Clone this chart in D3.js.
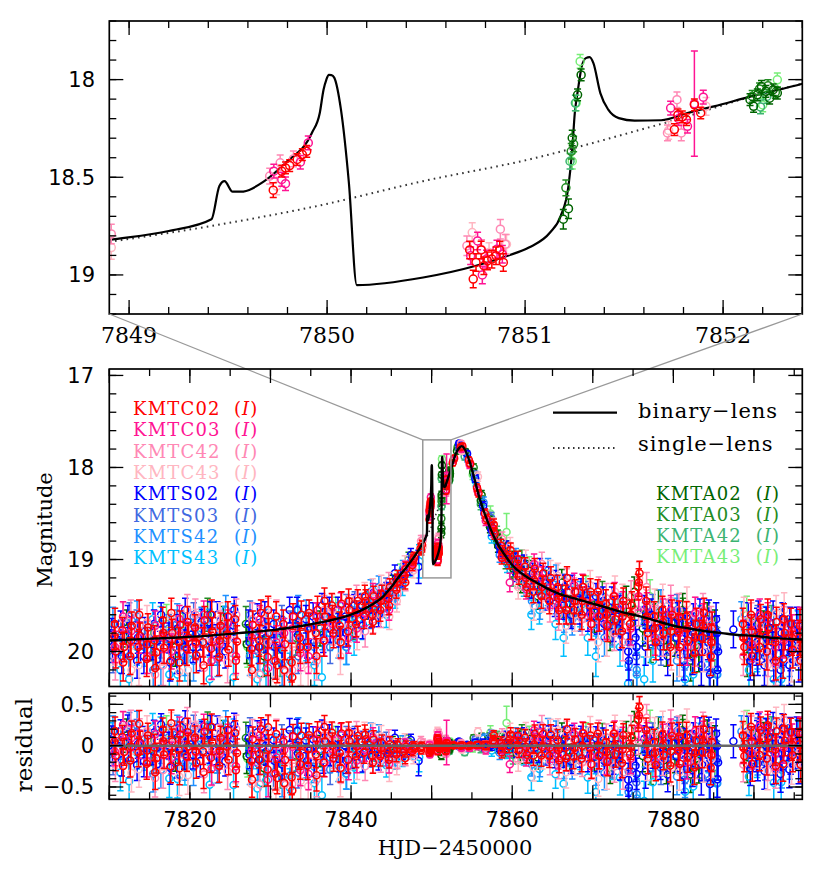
<!DOCTYPE html>
<html><head><meta charset="utf-8">
<script src="https://cdn.jsdelivr.net/npm/d3@7"></script>
<style>body{margin:0;background:#fff}</style>
</head><body>
<svg id="c" width="830" height="873"></svg>
<script>
// ---------------- DATA: [HJD-2450000, I mag, error] ----------------
const KMTC02 = [
[7810.62,19.83,.15],[7810.80,20.00,.18],[7811.63,19.77,.14],[7811.85,19.95,.16],[7812.60,20.05,.20],[7812.78,19.72,.15],
[7813.62,19.95,.17],[7813.83,19.83,.14],[7814.64,20.08,.19],[7814.80,19.74,.15],[7815.61,19.88,.16],[7815.84,20.01,.18],
[7816.62,19.66,.14],[7816.79,19.96,.17],[7817.63,20.10,.20],[7817.82,19.80,.15],[7818.60,19.90,.16],[7818.81,19.71,.15],
[7819.62,19.97,.18],[7819.84,19.85,.16],[7820.63,19.74,.14],[7820.80,20.04,.19],[7821.61,19.90,.16],[7821.83,19.66,.15],
[7822.62,19.97,.18],[7822.79,19.78,.15],[7823.64,20.06,.20],[7823.82,19.72,.14],[7824.60,19.82,.16],[7824.81,19.98,.18],
[7825.63,19.65,.15],[7825.85,19.89,.17],[7827.62,19.97,.18],[7827.80,19.71,.15],[7828.61,19.88,.17],[7828.83,19.58,.14],
[7829.64,20.06,.20],[7829.80,19.80,.16],[7830.62,20.10,.20],[7830.84,20.15,.19],[7831.60,19.70,.15],[7831.82,19.92,.17],
[7832.63,20.12,.21],[7832.80,19.62,.14],[7833.61,19.85,.16],[7833.83,19.60,.15],[7834.62,19.95,.17],[7834.80,19.58,.14],
[7835.63,19.80,.16],[7835.84,19.55,.15],[7836.61,19.88,.17],[7836.79,19.62,.14],[7837.62,19.50,.13],[7837.83,19.80,.16],
[7838.60,19.72,.15],[7838.82,19.48,.13],[7839.63,19.78,.16],[7839.81,19.55,.13],[7840.62,19.70,.14],[7840.84,19.45,.12],
[7841.60,19.62,.13],[7841.82,19.45,.12],[7842.63,19.60,.13],[7842.80,19.40,.11],[7843.62,19.55,.12],[7843.83,19.38,.10],
[7844.61,19.42,.10],[7844.82,19.30,.09],[7845.63,19.33,.09],[7845.80,19.20,.08],[7846.62,19.18,.07],[7846.84,19.10,.07],
[7847.61,19.06,.06],[7847.83,18.98,.06],[7848.62,18.88,.05],[7848.80,18.84,.05],
[7810.71,19.70,.17],[7811.72,20.12,.20],[7812.70,19.88,.18],[7813.71,19.60,.16],[7814.72,19.92,.18],[7815.70,20.18,.21],
[7816.71,19.80,.17],[7817.70,19.58,.16],[7818.72,20.12,.20],[7819.70,19.68,.17],[7820.71,19.90,.18],[7821.70,20.15,.20],
[7822.71,19.60,.16],[7823.70,19.88,.18],[7824.72,19.62,.16],[7825.71,20.10,.20],[7827.71,20.20,.21],[7828.70,19.95,.18],
[7829.71,19.55,.15],[7830.71,19.62,.16],[7831.71,20.20,.21],[7832.71,20.28,.22],[7833.70,19.95,.18],[7834.71,19.75,.17],
[7835.71,20.05,.19],[7836.70,19.45,.14],[7837.71,19.65,.15],[7838.71,19.90,.17],[7839.70,19.45,.13],[7840.71,19.58,.13],
[7841.71,19.40,.12],[7842.71,19.68,.13],[7843.71,19.45,.11],[7844.71,19.50,.10],[7845.71,19.25,.09],[7846.71,19.25,.07],
[7847.71,19.00,.06],[7848.71,18.90,.05],
[7849.728,18.566,.038],[7849.771,18.469,.03],[7849.79,18.452,.03],[7849.811,18.44,.03],[7849.849,18.409,.03],[7849.875,18.384,.03],[7849.897,18.367,.03],
[7850.72,18.872,.045],[7850.738,19.021,.045],[7850.752,18.936,.045],[7850.778,18.872,.045],[7850.792,18.953,.045],[7850.81,18.928,.045],
[7850.832,18.919,.045],[7850.853,18.902,.045],[7850.872,18.872,.045],[7850.89,18.936,.045],
[7851.754,18.256,.03],[7851.772,18.18,.03],[7851.794,18.191,.03],[7851.815,18.205,.03],[7851.855,18.129,.03],[7851.887,18.171,.03],
[7852.62,17.95,.03],[7852.80,17.90,.03],[7853.60,17.78,.03],[7853.82,17.77,.03],[7854.62,17.92,.03],[7854.80,17.96,.03],
[7855.63,18.22,.04],[7855.82,18.28,.04],[7856.61,18.50,.05],[7856.84,18.56,.05],[7857.62,18.66,.06],[7857.82,18.72,.06],
[7858.63,18.85,.07],[7858.81,18.92,.07],[7859.62,19.02,.08],[7859.80,18.90,.08],[7860.62,19.10,.09],[7860.84,19.18,.09],
[7861.60,19.08,.10],[7861.82,19.30,.10],[7862.63,19.35,.12],[7862.80,19.10,.11],[7863.62,19.40,.13],[7863.84,19.15,.11],
[7864.61,19.45,.14],[7864.80,19.20,.12],[7865.63,19.30,.13],[7865.82,19.55,.15],[7866.62,19.42,.14],[7866.80,19.20,.12],
[7867.60,19.55,.15],[7867.83,19.35,.13],[7868.62,19.60,.16],[7868.81,19.30,.13],[7869.63,19.50,.15],[7869.84,19.70,.17],
[7870.61,19.35,.13],[7870.80,19.62,.16],[7871.62,19.48,.15],[7871.83,19.72,.17],[7872.60,19.40,.14],[7872.81,19.65,.16],
[7873.63,19.78,.18],[7873.80,19.45,.14],[7874.62,19.70,.17],[7874.84,19.50,.15],[7875.61,19.30,.14],[7875.80,19.15,.13],
[7876.62,19.45,.15],[7876.83,19.80,.18],[7877.60,19.62,.16],[7877.82,19.90,.19],[7878.63,19.55,.15],[7878.80,19.80,.18],
[7879.62,19.95,.20],[7879.84,19.60,.16],[7880.61,19.78,.18],[7880.82,19.95,.20],[7881.63,19.62,.16],[7881.80,19.88,.19],
[7882.62,20.02,.21],[7882.84,19.70,.17],[7883.60,19.85,.19],[7883.81,19.58,.16],[7884.63,20.05,.21],[7884.80,19.75,.18],
[7857.71,18.62,.06],[7858.71,18.98,.07],[7859.71,18.95,.08],[7860.71,19.00,.09],[7861.71,19.20,.10],[7862.71,19.22,.11],
[7863.71,19.30,.12],[7864.71,19.35,.13],[7865.71,19.42,.14],[7866.71,19.55,.15],[7867.71,19.45,.14],[7868.71,19.45,.15],
[7869.71,19.35,.14],[7870.71,19.50,.15],[7871.71,19.60,.16],[7872.71,19.55,.15],[7873.71,19.62,.16],[7874.71,19.60,.16],
[7875.71,19.25,.15],[7876.71,19.62,.16],[7877.71,19.75,.17],[7878.71,19.68,.17],[7879.71,19.78,.18],[7880.71,19.62,.17],
[7881.71,19.75,.18],[7882.71,19.85,.19],[7883.71,19.72,.18],[7884.71,19.90,.20],
[7888.62,19.70,.17],[7888.81,19.95,.19],[7889.63,19.60,.16],[7889.80,20.05,.21],[7890.62,19.82,.18],[7890.84,19.65,.16],
[7891.61,20.00,.20],[7891.82,19.75,.17],[7892.63,19.90,.19],[7892.80,19.68,.16],[7893.62,20.08,.21],[7893.83,19.80,.18],
[7894.60,19.70,.17],[7894.82,19.98,.20],[7895.63,19.85,.19],[7895.80,20.10,.21],
[7888.71,19.85,.18],[7889.71,19.78,.18],[7890.71,19.95,.19],[7891.71,19.60,.17],[7892.71,20.10,.21],[7893.71,19.65,.17],
[7894.71,19.85,.19],[7895.71,19.72,.18]
];
const KMTC03 = [
[7810.70,19.95,.17],[7812.72,19.78,.15],[7814.70,20.05,.19],[7816.72,19.85,.16],[7818.70,19.65,.15],[7820.72,19.92,.17],
[7822.70,20.10,.20],[7824.72,19.70,.15],[7827.70,19.85,.17],[7829.72,20.18,.21],[7831.70,19.80,.16],[7833.72,20.02,.19],
[7835.70,19.62,.15],[7837.72,19.70,.15],[7839.70,19.85,.17],[7841.72,19.58,.14],[7843.70,19.45,.12],[7845.72,19.25,.09],
[7847.70,19.02,.06],
[7811.70,19.62,.16],[7813.72,19.85,.17],[7815.70,19.72,.16],[7817.72,20.00,.19],[7819.70,19.85,.17],[7821.72,19.60,.15],
[7823.70,19.92,.18],[7825.72,20.05,.19],[7828.70,19.65,.15],[7830.72,19.90,.18],[7832.72,19.75,.16],[7834.72,20.05,.19],
[7836.72,19.88,.17],[7838.72,19.50,.14],[7840.72,19.75,.15],[7842.72,19.38,.12],[7844.72,19.55,.11],[7846.72,19.10,.08],
[7849.731,18.469,.035],[7849.771,18.511,.035],[7849.79,18.533,.035],[7849.865,18.423,.035],[7849.905,18.324,.035],
[7850.725,18.902,.045],[7850.76,18.826,.045],[7850.784,19.0,.045],[7850.805,18.919,.045],[7850.858,18.868,.045],[7850.885,18.894,.045],
[7851.735,18.146,.035],[7851.775,18.2,.035],[7851.82,18.239,.035],[7851.855,18.123,.27],[7851.9,18.09,.035],
[7852.70,17.92,.03],[7853.70,17.80,.03],[7854.72,17.97,.04],[7855.70,18.25,.05],[7856.72,18.58,.05],[7857.70,18.70,.06],
[7858.72,18.95,.07],[7859.70,19.25,.10],[7860.70,19.05,.09],[7861.72,19.32,.11],[7863.70,19.20,.12],[7865.72,19.50,.15],
[7867.70,19.28,.13],[7869.72,19.60,.16],[7871.70,19.70,.17],[7873.72,19.50,.15],[7875.70,19.40,.15],[7877.72,19.85,.19],
[7879.70,19.55,.16],[7881.72,19.95,.20],[7883.70,19.65,.17],[7884.72,19.90,.20],[7888.70,19.85,.19],[7890.72,19.60,.17],
[7892.70,19.95,.20],[7894.72,19.78,.18],
[7862.72,19.05,.11],[7864.72,19.40,.13],[7866.72,19.55,.15],[7868.72,19.30,.14],[7870.72,19.62,.16],[7872.72,19.40,.15],
[7874.72,19.75,.18],[7876.72,19.52,.16],[7878.72,19.60,.17],[7880.72,19.80,.19],[7882.72,19.58,.17],[7889.72,19.92,.19],
[7891.72,19.65,.18],[7893.72,19.88,.19],[7895.72,19.70,.18]
];
const KMTC42 = [
[7810.75,20.10,.21],[7812.68,19.60,.16],[7814.75,19.85,.19],[7816.68,20.15,.22],[7818.75,19.80,.19],[7820.68,19.60,.17],
[7822.75,19.88,.19],[7824.68,20.12,.22],[7827.75,19.65,.18],[7829.68,19.90,.19],[7831.75,20.22,.23],[7832.70,20.20,.25],
[7834.75,19.75,.18],[7836.68,19.55,.16],[7838.75,19.90,.18],[7840.68,19.42,.14],[7842.75,19.65,.15],[7844.68,19.25,.11],
[7846.75,19.25,.09],[7848.68,18.80,.06],[7848.91,18.79,.05],
[7811.68,19.95,.20],[7813.75,19.72,.18],[7815.68,20.25,.23],[7817.75,19.85,.19],[7819.68,19.55,.17],[7821.75,20.18,.22],
[7823.68,19.75,.19],[7825.75,19.60,.17],[7828.68,20.25,.23],[7830.75,19.62,.18],[7833.68,19.85,.19],[7835.75,20.10,.21],
[7837.75,19.75,.18],[7839.68,19.55,.16],[7841.75,19.78,.17],[7843.68,19.60,.14],[7845.75,19.38,.11],[7847.68,19.05,.08],
[7849.71,18.494,.04],[7849.763,18.426,.04],[7849.83,18.406,.04],[7850.706,18.851,.05],[7850.78,18.87,.05],[7850.875,18.766,.05],
[7850.9,18.843,.05],[7851.719,18.273,.04],[7851.767,18.103,.04],[7851.789,18.273,.04],
[7853.65,17.74,.03],[7854.68,17.95,.04],[7856.68,18.52,.06],[7858.75,18.78,.08],[7860.68,19.20,.11],[7862.75,19.15,.13],
[7864.68,19.52,.16],[7866.75,19.25,.15],[7868.68,19.65,.17],[7870.75,19.35,.16],[7872.68,19.80,.19],[7874.75,19.40,.17],
[7876.68,19.30,.16],[7878.75,19.85,.20],[7880.68,19.55,.18],[7882.75,19.95,.21],[7884.68,19.70,.19],[7889.68,19.65,.18],
[7891.75,20.05,.22],[7893.68,19.70,.19],[7895.75,19.92,.21],
[7861.75,19.25,.13],[7863.68,19.05,.13],[7865.75,19.60,.17],[7867.68,19.35,.15],[7869.75,19.70,.18],[7871.68,19.42,.16],
[7873.75,19.90,.20],[7875.68,19.55,.17],[7877.75,19.68,.18],[7879.68,19.45,.17],[7881.75,19.90,.20],[7883.68,19.55,.18],
[7888.68,20.05,.21],[7890.75,19.72,.19],[7892.68,20.15,.22],[7894.75,19.80,.20]
];
const KMTC43 = [
[7811.75,19.65,.18],[7813.68,20.15,.22],[7815.75,19.80,.19],[7817.68,19.62,.17],[7819.75,20.20,.23],[7821.68,19.85,.19],
[7823.75,19.65,.18],[7825.68,20.05,.21],[7827.68,20.25,.23],[7829.75,19.60,.18],[7831.68,19.88,.20],[7833.75,20.15,.22],
[7835.68,19.85,.19],[7837.68,19.55,.17],[7839.75,19.72,.18],[7841.68,19.40,.15],[7843.75,19.30,.13],[7845.68,19.45,.12],
[7847.75,19.12,.08],[7848.91,18.86,.06],
[7810.68,19.95,.20],[7812.75,20.20,.23],[7814.68,19.68,.18],[7816.75,19.95,.20],[7818.68,20.22,.23],[7820.75,19.72,.18],
[7822.68,20.10,.21],[7824.75,19.85,.19],[7828.75,19.70,.18],[7830.68,20.30,.24],[7832.75,19.95,.20],[7834.68,20.20,.22],
[7836.75,19.70,.18],[7838.68,20.05,.20],[7840.75,19.80,.18],[7842.68,19.35,.14],[7844.75,19.62,.14],[7846.68,19.05,.09],
[7849.745,18.545,.045],[7850.733,18.783,.05],[7850.818,18.885,.05],[7850.906,18.843,.05],[7851.725,18.26,.045],[7851.914,18.137,.045],
[7853.75,17.82,.03],[7855.75,18.10,.05],[7857.68,18.62,.07],[7859.75,18.85,.09],[7861.68,19.02,.12],[7863.75,19.42,.15],
[7865.68,19.18,.14],[7867.75,19.60,.18],[7869.68,19.28,.16],[7871.75,19.85,.20],[7873.68,19.45,.18],[7875.75,19.20,.17],
[7877.68,19.50,.18],[7879.75,19.98,.22],[7881.68,19.48,.18],[7883.75,20.00,.22],[7888.75,19.60,.19],[7890.68,19.90,.21],
[7892.75,19.58,.19],[7894.68,20.10,.23],
[7860.75,19.30,.13],[7862.68,19.50,.16],[7864.75,19.15,.14],[7866.68,19.72,.19],[7868.75,19.50,.18],[7870.68,19.90,.21],
[7872.75,19.35,.17],[7874.68,19.75,.20],[7876.75,19.85,.21],[7878.68,19.45,.18],[7880.75,20.05,.22],[7882.68,19.60,.19],
[7884.75,19.95,.22],[7889.75,19.80,.20],[7891.68,20.15,.23],[7893.75,19.55,.19],[7895.68,19.95,.21]
];
const KMTS02 = [
[7810.40,19.95,.17],[7811.42,19.70,.14],[7812.38,19.90,.16],[7813.45,20.10,.19],[7814.40,19.78,.15],[7815.37,19.92,.17],
[7816.43,19.60,.13],[7817.40,19.85,.16],[7818.38,20.05,.19],[7818.48,19.75,.15],[7819.42,19.55,.13],[7819.47,19.80,.15],
[7820.40,19.95,.17],[7821.44,19.68,.14],[7822.39,19.88,.16],[7823.42,19.60,.14],[7824.40,20.00,.18],[7825.45,19.72,.15],
[7825.50,19.55,.14],[7827.41,19.90,.17],[7828.39,19.62,.14],[7829.43,19.85,.16],[7830.40,19.70,.15],[7831.44,19.98,.18],
[7832.38,19.55,.14],[7833.42,19.82,.16],[7834.40,19.65,.15],[7835.43,19.90,.17],[7836.40,19.50,.13],[7837.44,19.75,.15],
[7838.38,19.55,.14],[7839.42,19.80,.15],[7840.40,19.50,.12],[7841.43,19.72,.14],[7842.39,19.45,.12],[7843.42,19.60,.13],
[7844.40,19.35,.10],[7845.44,19.15,.09],[7846.40,19.22,.08],[7847.42,18.95,.07],[7848.38,19.08,.18],
[7810.30,19.80,.16],[7811.55,20.05,.19],[7812.30,19.65,.15],[7813.55,19.85,.17],[7814.30,20.05,.19],[7815.55,19.70,.15],
[7816.30,19.95,.17],[7817.55,20.12,.20],[7819.30,19.95,.18],[7820.55,19.72,.15],[7821.30,20.02,.19],[7822.55,19.60,.14],
[7823.30,19.88,.17],[7824.55,19.75,.16],[7827.30,19.70,.15],[7828.55,19.95,.18],[7829.30,19.60,.14],[7830.55,19.95,.18],
[7831.30,19.78,.16],[7833.30,19.55,.14],[7834.55,19.90,.17],[7835.30,19.62,.15],[7836.55,19.85,.16],[7837.30,19.55,.14],
[7838.55,19.80,.15],[7839.30,19.62,.14],[7840.55,19.72,.13],[7841.30,19.50,.12],[7842.55,19.62,.12],[7843.30,19.48,.11],
[7844.55,19.45,.10],[7845.30,19.30,.09],[7846.55,19.12,.08],[7847.30,19.10,.07],
[7853.40,17.74,.03],[7853.46,17.76,.03],[7854.40,17.85,.03],[7855.42,18.12,.04],[7856.40,18.42,.05],[7857.43,18.68,.06],
[7858.38,18.85,.07],[7859.42,18.95,.08],[7860.40,19.02,.09],[7860.48,19.15,.09],[7861.42,19.20,.10],[7861.47,19.05,.10],
[7862.40,19.30,.12],[7863.44,19.10,.11],[7864.38,19.42,.13],[7865.42,19.25,.13],[7866.40,19.50,.15],[7867.44,19.30,.13],
[7868.38,19.55,.15],[7869.42,19.62,.16],[7870.40,19.40,.14],[7871.43,19.70,.17],[7872.39,19.45,.15],[7873.42,19.80,.18],
[7874.40,20.00,.20],[7874.48,20.10,.21],[7875.43,19.95,.19],[7876.40,19.55,.16],[7877.44,19.75,.18],[7878.38,19.90,.19],
[7879.42,19.60,.16],[7880.40,19.85,.19],[7881.43,19.70,.17],[7882.39,20.05,.20],[7882.48,19.65,.17],[7883.42,19.85,.19],
[7883.47,20.15,.22],[7884.40,19.60,.16],[7884.46,20.00,.20],[7885.40,19.80,.19],[7885.47,20.20,.22],[7887.45,19.76,.20],
[7856.55,18.50,.05],[7857.30,18.62,.06],[7858.55,18.90,.07],[7859.30,18.88,.08],[7862.55,19.15,.11],[7863.30,19.35,.12],
[7864.55,19.20,.12],[7865.30,19.48,.14],[7866.55,19.30,.13],[7867.30,19.60,.15],[7868.55,19.35,.14],[7869.30,19.45,.15],
[7870.55,19.65,.16],[7871.30,19.45,.15],[7872.55,19.72,.17],[7873.30,19.55,.16],[7875.30,19.85,.19],[7876.55,19.95,.20],
[7877.30,19.60,.17],[7878.55,19.70,.18],[7879.30,20.05,.21],[7880.55,19.65,.18],[7881.30,20.10,.21],[7881.55,19.80,.19],
[7882.30,19.75,.18],[7883.30,19.60,.17],[7883.55,20.00,.20],[7884.30,19.90,.19],[7884.55,20.25,.22],[7885.30,19.65,.18],
[7885.55,20.00,.21],
[7889.42,19.90,.19],[7890.40,19.70,.17],[7890.47,20.05,.21],[7891.43,19.85,.19],[7892.38,19.62,.17],[7892.46,20.10,.22],
[7893.42,19.80,.19],[7893.47,19.95,.20],[7894.40,20.15,.22],[7894.45,19.70,.18],[7895.42,19.88,.19],
[7889.30,19.65,.18],[7889.55,20.10,.21],[7890.30,19.95,.20],[7890.55,19.62,.17],[7891.30,20.15,.22],[7891.55,19.70,.18],
[7892.30,19.90,.19],[7893.30,20.20,.22],[7893.55,19.65,.18],[7894.30,19.85,.19],[7894.55,20.00,.21],[7895.30,19.70,.18],
[7895.55,20.12,.21]
];
const KMTS03 = [
[7811.47,19.82,.16],[7813.40,19.70,.15],[7815.45,20.02,.18],[7817.37,19.75,.15],[7819.45,19.95,.17],[7821.40,19.78,.15],
[7823.45,20.08,.19],[7825.40,19.85,.16],[7827.46,19.60,.15],[7829.38,19.95,.17],[7831.41,19.65,.15],[7833.45,20.05,.19],
[7835.39,19.75,.16],[7837.41,19.95,.18],[7839.44,19.52,.14],[7841.40,19.50,.13],[7843.45,19.38,.11],[7845.40,19.35,.09],
[7847.45,19.02,.07],[7853.44,17.80,.03],[7855.40,18.08,.04],[7857.40,18.55,.06],[7859.45,19.00,.08],[7861.40,19.10,.10],
[7863.42,19.35,.12],[7865.45,19.45,.14],[7867.40,19.58,.15],[7869.44,19.38,.14],[7871.40,19.60,.16],[7873.45,19.68,.17],
[7875.40,20.05,.21],[7877.42,19.55,.17],[7879.45,19.85,.19],[7881.40,20.00,.20],[7883.44,19.70,.18],[7885.43,19.95,.21],
[7889.45,19.80,.19],[7891.40,20.05,.21],[7893.45,19.72,.18],[7895.40,19.95,.20],
[7810.47,20.05,.18],[7812.47,19.62,.15],[7814.38,19.85,.17],[7816.47,19.90,.17],[7818.38,19.70,.15],[7820.47,19.62,.15],
[7822.47,19.95,.18],[7824.38,19.80,.16],[7828.46,19.85,.17],[7830.38,20.10,.19],[7832.46,19.72,.16],[7834.38,19.95,.18],
[7836.46,19.68,.15],[7838.40,19.75,.16],[7840.46,19.48,.13],[7842.46,19.62,.13],[7844.38,19.30,.10],[7846.46,19.20,.08],
[7862.46,19.18,.11],[7864.40,19.40,.13],[7866.46,19.30,.14],[7868.40,19.62,.16],[7870.46,19.55,.16],[7872.40,19.75,.18],
[7874.46,19.90,.20],[7876.46,19.65,.18],[7878.46,19.95,.20],[7880.46,19.55,.17],[7882.40,19.90,.20],[7884.46,19.75,.19],
[7890.46,19.68,.18],[7892.40,20.00,.21],[7894.46,19.80,.19]
];
const KMTS42 = [
[7810.45,19.70,.18],[7812.43,20.05,.21],[7814.45,19.90,.19],[7816.40,20.15,.22],[7818.44,19.65,.17],[7820.45,20.10,.22],
[7822.42,19.72,.18],[7824.45,19.55,.16],[7828.45,20.00,.20],[7830.43,19.80,.18],[7832.45,20.10,.21],[7834.43,19.60,.16],
[7836.45,19.80,.18],[7838.44,19.88,.19],[7840.45,19.62,.16],[7842.44,19.35,.13],[7844.45,19.48,.12],[7846.45,19.10,.09],
[7854.45,17.90,.04],[7856.45,18.38,.06],[7858.45,18.95,.08],[7860.45,18.98,.10],[7862.45,19.45,.14],[7864.45,19.12,.13],
[7866.45,19.62,.17],[7868.45,19.40,.16],[7870.45,19.78,.19],[7872.45,19.60,.17],[7874.45,20.15,.23],[7876.45,19.70,.19],
[7878.45,19.50,.17],[7880.45,20.10,.22],[7882.45,19.78,.19],[7884.45,20.20,.23],[7888.45,19.65,.19],[7890.45,19.98,.21],
[7892.45,19.75,.19],[7894.45,20.05,.22],
[7811.45,19.85,.19],[7813.45,19.62,.17],[7815.45,20.20,.22],[7817.45,19.80,.18],[7819.45,20.05,.21],[7821.45,19.70,.18],
[7823.45,19.95,.20],[7825.45,19.65,.17],[7827.45,20.05,.21],[7829.45,19.72,.18],[7831.45,20.15,.22],[7833.45,19.55,.16],
[7835.45,19.95,.19],[7837.45,19.62,.17],[7839.45,19.95,.19],[7841.45,19.58,.15],[7843.45,19.30,.12],[7845.45,19.38,.11],
[7863.45,19.50,.15],[7865.45,19.20,.14],[7867.45,19.65,.17],[7869.45,19.50,.17],[7871.45,19.85,.20],[7873.45,19.55,.18],
[7875.45,20.20,.23],[7877.45,19.78,.19],[7879.45,19.65,.18],[7881.45,20.15,.22],[7883.45,19.70,.19],[7885.45,20.25,.24],
[7889.45,19.95,.21],[7891.45,19.70,.19],[7893.45,20.15,.22],[7895.45,19.75,.20]
];
const KMTS43 = [
[7811.38,20.20,.22],[7813.42,19.95,.20],[7815.38,19.65,.18],[7817.45,20.25,.23],[7819.38,20.10,.22],[7821.46,19.75,.19],
[7823.38,19.95,.20],[7825.42,20.28,.23],[7827.38,19.82,.19],[7829.45,20.20,.22],[7831.38,19.95,.20],[7833.40,19.68,.18],
[7835.46,20.15,.22],[7837.38,19.80,.19],[7839.38,19.95,.19],[7841.46,19.70,.17],[7843.38,19.55,.14],[7845.46,19.42,.11],
[7847.38,19.10,.09],[7848.46,19.02,.18],[7855.46,18.15,.05],[7857.46,18.75,.07],[7859.38,19.05,.09],[7861.46,19.28,.12],
[7863.38,19.55,.15],[7865.38,19.70,.17],[7867.46,19.45,.16],[7869.38,19.85,.19],[7871.46,19.55,.17],[7873.38,19.95,.21],
[7875.46,20.25,.24],[7876.38,20.30,.24],[7878.40,19.85,.20],[7880.38,19.60,.18],[7882.46,20.25,.24],[7884.38,19.90,.21],
[7889.38,20.20,.23],[7891.46,19.85,.20],[7893.38,20.30,.24],[7895.46,19.75,.19],
[7810.38,19.80,.20],[7812.46,20.30,.24],[7814.38,19.95,.21],[7816.38,19.70,.19],[7818.46,20.25,.23],[7820.38,19.85,.20],
[7822.46,20.30,.24],[7824.38,19.70,.19],[7828.38,20.30,.24],[7830.46,19.85,.20],[7832.40,20.25,.23],[7834.46,19.90,.20],
[7836.38,20.28,.23],[7838.46,19.65,.18],[7840.38,19.85,.19],[7842.46,19.55,.16],[7844.38,19.60,.14],[7846.38,19.28,.11],
[7862.38,19.60,.16],[7864.46,19.35,.15],[7866.38,19.85,.20],[7868.46,19.55,.18],[7870.38,20.05,.22],[7872.46,19.75,.20],
[7874.38,20.35,.25],[7877.46,20.10,.23],[7879.38,19.80,.20],[7881.46,20.30,.24],[7883.38,19.70,.20],[7885.38,20.25,.24],
[7890.38,20.00,.22],[7892.46,20.30,.24],[7894.38,19.85,.21]
];
const KMTA02 = [
[7812.15,19.75,.20],[7818.20,19.95,.21],[7824.15,19.70,.19],[7827.05,19.92,.21],[7829.20,20.05,.22],[7836.15,19.75,.19],
[7842.20,19.50,.15],[7845.15,19.28,.11],
[7851.193,18.715,.05],[7851.219,18.661,.05],[7851.238,18.299,.04],[7851.265,18.078,.03],[7851.283,17.976,.03],
[7852.136,18.103,.03],[7852.154,18.137,.03],[7852.173,18.078,.03],[7852.194,18.035,.03],[7852.216,18.06,.03],
[7852.235,18.095,.03],[7852.253,18.052,.03],[7852.274,18.069,.03],
[7853.15,17.82,.03],[7854.20,17.83,.03],[7855.15,18.05,.04],[7856.20,18.30,.05],[7857.15,18.60,.06],[7857.25,18.65,.06],
[7858.15,18.80,.07],[7858.25,18.85,.07],[7859.15,18.95,.08],[7859.25,18.88,.08],[7860.15,19.10,.09],[7860.25,19.02,.09],
[7861.15,19.18,.10],[7861.25,19.08,.10],[7862.15,19.30,.12],[7864.20,19.25,.13],[7867.15,19.55,.16],[7870.20,19.62,.17],
[7874.15,19.45,.16],[7876.20,19.75,.19],[7878.15,19.50,.17],[7880.20,19.85,.20],[7882.15,20.10,.22],[7884.20,19.65,.18],
[7889.15,20.05,.22],[7891.20,19.75,.19],
[7856.10,18.36,.05],[7857.05,18.55,.06],[7858.05,18.76,.07],[7859.05,18.90,.08],[7860.05,19.00,.09],[7861.05,19.25,.11],
[7862.05,19.12,.11],[7863.15,19.40,.14],[7866.15,19.25,.14],[7872.15,19.80,.19],[7875.15,19.35,.16],[7879.15,19.95,.21],
[7881.15,19.55,.18],[7883.15,20.00,.22],[7885.15,19.75,.20]
];
const KMTA03 = [
[7815.18,19.90,.20],[7822.20,19.60,.18],[7826.95,19.70,.19],[7833.15,19.85,.19],[7840.20,19.70,.17],[7847.15,19.00,.08],
[7851.206,18.554,.04],[7851.233,18.367,.04],[7851.245,18.33,.04],[7852.147,18.086,.03],[7852.184,18.048,.03],
[7852.227,18.031,.03],[7852.264,18.065,.03],
[7853.22,17.78,.03],[7855.22,18.00,.04],[7857.22,18.55,.06],[7858.20,18.75,.07],[7859.20,19.02,.08],[7860.20,19.12,.09],
[7861.20,19.00,.10],[7862.22,19.25,.12],[7866.20,19.48,.15],[7871.18,19.40,.16],[7875.18,19.55,.17],[7877.20,19.92,.20],
[7881.22,19.60,.18],[7883.18,19.95,.21],[7890.18,19.85,.20]
];
const KMTA42 = [
[7819.15,19.78,.20],[7831.20,20.05,.22],[7843.15,19.50,.14],
[7851.227,18.418,.04],[7851.254,18.12,.04],[7852.189,18.14,.035],[7852.221,18.086,.035],
[7854.10,17.88,.04],[7856.10,18.40,.06],[7857.10,18.58,.07],[7858.10,18.72,.08],[7859.10,18.90,.09],[7860.10,19.18,.11],
[7861.10,19.20,.12],[7863.15,19.20,.14],[7868.15,19.45,.17],[7873.15,19.62,.19],[7879.15,19.78,.20],[7885.15,20.05,.23],
[7892.15,19.70,.20]
];
const KMTA43 = [
[7817.10,19.70,.21],[7827.15,19.95,.22],[7838.10,19.60,.19],[7846.10,19.15,.10],
[7851.238,18.418,.04],[7851.258,18.12,.04],[7851.278,17.907,.035],[7852.2,18.13,.035],[7852.274,18.001,.035],
[7855.10,18.08,.05],[7857.30,18.50,.08],[7858.30,18.78,.09],[7859.30,18.70,.20],[7860.30,19.05,.10],[7862.10,19.10,.13],
[7869.15,19.35,.17],[7872.10,19.70,.20],[7877.10,19.40,.18],[7883.10,19.85,.21],[7889.10,19.60,.20]
];
// binary-lens model curve [t, mag]
const binaryModel = [
[7810,19.88],[7814,19.865],[7818,19.85],[7822,19.83],[7826,19.80],[7830,19.77],[7834,19.72],[7837,19.67],[7840,19.60],
[7842,19.52],[7844,19.40],[7845,19.30],[7846,19.18],[7847,19.07],[7848,18.95],[7848.9,18.821],[7849.2,18.775],
[7849.416,18.715],[7849.456,18.545],[7849.482,18.52],[7849.523,18.574],[7849.563,18.574],[7849.683,18.52],[7849.79,18.426],
[7849.923,18.273],[7849.963,18.171],[7849.982,18.052],[7849.996,18.001],[7850.009,17.976],[7850.022,17.977],[7850.036,17.99],
[7850.07,18.154],[7850.11,18.528],[7850.15,19.052],[7850.485,19.013],[7850.752,18.953],[7850.912,18.902],[7851.019,18.86],
[7851.126,18.783],[7851.18,18.698],[7851.219,18.545],[7851.238,18.358],[7851.251,18.171],[7851.267,18.052],[7851.286,17.933],
[7851.307,17.890],[7851.326,17.885],[7851.345,17.916],[7851.38,18.069],[7851.42,18.154],[7851.473,18.197],[7851.553,18.21],
[7851.687,18.208],[7851.82,18.171],[7851.954,18.137],[7852.141,18.086],[7852.4,18.021],[7852.7,17.93],[7853.0,17.85],
[7853.4,17.79],[7853.75,17.77],[7854.1,17.80],[7854.5,17.88],[7855,18.02],[7856,18.35],[7857,18.60],[7858,18.80],
[7859,18.94],[7860,19.06],[7861,19.14],[7862,19.20],[7863,19.25],[7864,19.30],[7866,19.38],[7868,19.43],[7870,19.48],
[7872,19.53],[7874,19.58],[7876,19.62],[7878,19.67],[7880,19.72],[7882,19.75],[7884,19.78],[7886,19.80],[7888,19.82],
[7890,19.83],[7892,19.85],[7894,19.86],[7896,19.87]
];
// single-lens model curve [t, mag]
const singleModel = [
[7848.9,18.831],[7849.416,18.749],[7849.95,18.647],[7850.484,18.52],[7851.019,18.409],[7851.553,18.265],
[7851.82,18.188],[7852.088,18.103],[7852.4,18.021]
];
// tick labels
const topXTicks = [7849,7850,7851,7852];
const topYTicks = [18,18.5,19];
const mainYTicks = [17,18,19,20];
const resYTicks = [-0.5,0,0.5];
const mainXTicks = [7820,7840,7860,7880];
const legendLeft = ["KMTC02","KMTC03","KMTC42","KMTC43","KMTS02","KMTS03","KMTS42","KMTS43"];
const legendRight = ["KMTA02","KMTA03","KMTA42","KMTA43"];

// ---------------- STYLE ----------------
const datasets = {KMTC02,KMTC03,KMTC42,KMTC43,KMTS02,KMTS03,KMTS42,KMTS43,KMTA02,KMTA03,KMTA42,KMTA43};
const colors = {KMTC02:"#ff0000",KMTC03:"#ff1493",KMTC42:"#ff88b4",KMTC43:"#ffb6c1",
  KMTS02:"#0000ff",KMTS03:"#4169e1",KMTS42:"#1e90ff",KMTS43:"#00bfff",
  KMTA02:"#006400",KMTA03:"#228b22",KMTA42:"#3cb371",KMTA43:"#77ee77"};
const drawOrder = ["KMTA43","KMTA42","KMTA03","KMTA02","KMTS43","KMTS42","KMTS03","KMTS02","KMTC43","KMTC42","KMTC03","KMTC02"];

const svg = d3.select("#c");
const SANS = "DejaVu Sans", SERIF = "DejaVu Serif";

const topX = d3.scaleLinear().domain([7848.9,7852.4]).range([109.3,802.3]);
const topY = d3.scaleLinear().domain([17.7,19.2]).range([21,314]);
const mainX = d3.scaleLinear().domain([7810,7896]).range([109.3,802.3]);
const mainY = d3.scaleLinear().domain([16.93,20.38]).range([369,686.5]);
const resY = d3.scaleLinear().domain([-0.649,0.634]).range([799.3,693.3]);

const bis = d3.bisector(d=>d[0]).left;
function modelAt(t){
  const m = binaryModel; let i = bis(m,t);
  if(i<=0) return m[0][1]; if(i>=m.length) return m[m.length-1][1];
  const a=m[i-1], b=m[i]; return a[1]+(b[1]-a[1])*(t-a[0])/(b[0]-a[0]);
}

const defs = svg.append("defs");
defs.append("clipPath").attr("id","cTop").append("rect").attr("x",109.3).attr("y",21).attr("width",693).attr("height",293);
defs.append("clipPath").attr("id","cMain").append("rect").attr("x",109.3).attr("y",369).attr("width",693).attr("height",317.5);
defs.append("clipPath").attr("id","cRes").append("rect").attr("x",109.3).attr("y",693.3).attr("width",693).attr("height",106);

function drawData(g, x, y, valFn, r, cap, sw){
  drawOrder.forEach(name=>{
    const col = colors[name];
    const pts = datasets[name].map(d=>({t:d[0], v:valFn(d), e:d[2]}));
    g.append("g").selectAll("path").data(pts).join("path")
      .attr("d",d=>{
        const cx=x(d.t), cy=y(d.v), y1=y(d.v-d.e), y2=y(d.v+d.e);
        const top=Math.min(y1,y2), bot=Math.max(y1,y2);
        let p = `M${cx-cap},${top}H${cx+cap}M${cx-cap},${bot}H${cx+cap}`;
        if(top<cy-r) p+=`M${cx},${top}V${cy-r}`;
        if(bot>cy+r) p+=`M${cx},${cy+r}V${bot}`;
        return p;
      })
      .attr("fill","none").attr("stroke",col).attr("stroke-width",sw);
    g.append("g").selectAll("circle").data(pts).join("circle")
      .attr("cx",d=>x(d.t)).attr("cy",d=>y(d.v)).attr("r",r)
      .attr("fill","none").attr("stroke",col).attr("stroke-width",sw);
  });
}

function frame(x, y, xMaj, xMin, yMaj, yMin, L, l){
  const [x0,x1]=x.range(); const ya=y.range(); const yt=Math.min(...ya), yb=Math.max(...ya);
  const g = svg.append("g").attr("stroke","#000").attr("stroke-width",1.3).attr("fill","none");
  const seg=(a,b,c,d)=>g.append("line").attr("x1",a).attr("y1",b).attr("x2",c).attr("y2",d);
  xMin.forEach(v=>{const px=x(v); seg(px,yb,px,yb-l); seg(px,yt,px,yt+l);});
  xMaj.forEach(v=>{const px=x(v); seg(px,yb,px,yb-L); seg(px,yt,px,yt+L);});
  yMin.forEach(v=>{const py=y(v); seg(x0,py,x0+l,py); seg(x1,py,x1-l,py);});
  yMaj.forEach(v=>{const py=y(v); seg(x0,py,x0+L,py); seg(x1,py,x1-L,py);});
  g.append("rect").attr("x",x0).attr("y",yt).attr("width",x1-x0).attr("height",yb-yt).attr("stroke-width",1.7);
}
const rng=(a,b,s)=>d3.range(Math.round((b-a)/s)+1).map(i=>+(a+i*s).toFixed(4));
const fmt = v => (v<0?"\u2212":"")+Math.abs(v);
const line = (x,y)=>d3.line().x(d=>x(d[0])).y(d=>y(d[1]));

// ---------------- TOP (zoom) PANEL ----------------
const gTop = svg.append("g").attr("clip-path","url(#cTop)");
gTop.append("path").datum(singleModel).attr("d",line(topX,topY).curve(d3.curveMonotoneX))
  .attr("fill","none").attr("stroke","#333").attr("stroke-width",2).attr("stroke-dasharray","1.6,4.2");
gTop.append("path").datum(binaryModel).attr("d",line(topX,topY).curve(d3.curveMonotoneX))
  .attr("fill","none").attr("stroke","#000").attr("stroke-width",2.2);
drawData(gTop, topX, topY, d=>d[1], 4, 3.5, 1.5);
frame(topX, topY, topXTicks, rng(7849,7852.4,0.2), topYTicks, rng(17.7,19.2,0.1), 14, 7);
svg.append("g").selectAll("text").data(topXTicks).join("text")
  .attr("x",d=>topX(d)).attr("y",343).attr("text-anchor","middle")
  .attr("font-family",SERIF).attr("font-size",22).text(d=>d);
svg.append("g").selectAll("text").data(topYTicks).join("text")
  .attr("x",95).attr("y",d=>topY(d)+7.5).attr("text-anchor","end")
  .attr("font-family",SANS).attr("font-size",21).text(d=>d);

// ---------------- MAIN PANEL ----------------
const gMain = svg.append("g").attr("clip-path","url(#cMain)");
drawData(gMain, mainX, mainY, d=>d[1], 3.5, 3.2, 1.5);
gMain.append("path").datum(singleModel).attr("d",line(mainX,mainY))
  .attr("fill","none").attr("stroke","#333").attr("stroke-width",1.6).attr("stroke-dasharray","1.5,3");
gMain.append("path").datum(binaryModel).attr("d",line(mainX,mainY).curve(d3.curveMonotoneX))
  .attr("fill","none").attr("stroke","#000").attr("stroke-width",2.4);
svg.append("rect").attr("x",mainX(7848.9)).attr("y",mainY(17.7))
  .attr("width",mainX(7852.4)-mainX(7848.9)).attr("height",mainY(19.2)-mainY(17.7))
  .attr("fill","none").attr("stroke","#999").attr("stroke-width",1.5);
svg.append("line").attr("x1",topX(7848.9)).attr("y1",314).attr("x2",mainX(7848.9)).attr("y2",mainY(17.7))
  .attr("stroke","#999").attr("stroke-width",1.3);
svg.append("line").attr("x1",topX(7852.4)).attr("y1",314).attr("x2",mainX(7852.4)).attr("y2",mainY(17.7))
  .attr("stroke","#999").attr("stroke-width",1.3);
frame(mainX, mainY, rng(7810,7890,10), rng(7810,7895,5), mainYTicks, rng(17,20.2,0.2), 14, 7);
svg.append("g").selectAll("text").data(mainYTicks).join("text")
  .attr("x",94).attr("y",d=>mainY(d)+7.5).attr("text-anchor","end")
  .attr("font-family",SANS).attr("font-size",21).text(d=>d);

// legend
const lg = svg.append("g").attr("font-family",SERIF);
legendLeft.forEach((n,i)=>{
  const yb = 415 + i*21.3;
  lg.append("text").attr("x",133).attr("y",yb).attr("fill",colors[n]).attr("font-size",18).attr("letter-spacing",1.2).text(n);
  const t = lg.append("text").attr("x",234).attr("y",yb).attr("fill",colors[n]).attr("font-size",18).attr("letter-spacing",1);
  t.append("tspan").text("("); t.append("tspan").attr("font-style","italic").text("I"); t.append("tspan").text(")");
});
legendRight.forEach((n,i)=>{
  const yb = 500 + i*21.0;
  lg.append("text").attr("x",742).attr("y",yb).attr("text-anchor","end").attr("fill",colors[n]).attr("font-size",18).attr("letter-spacing",1.2).text(n);
  const t = lg.append("text").attr("x",780).attr("y",yb).attr("text-anchor","end").attr("fill",colors[n]).attr("font-size",18).attr("letter-spacing",1);
  t.append("tspan").text("("); t.append("tspan").attr("font-style","italic").text("I"); t.append("tspan").text(")");
});
lg.append("line").attr("x1",553).attr("x2",617).attr("y1",412.7).attr("y2",412.7).attr("stroke","#000").attr("stroke-width",2.2);
lg.append("text").attr("x",638).attr("y",418).attr("fill","#000").attr("font-size",21).attr("letter-spacing",1).text("binary\u2212lens");
lg.append("line").attr("x1",553).attr("x2",617).attr("y1",448).attr("y2",448).attr("stroke","#333").attr("stroke-width",1.8).attr("stroke-dasharray","1.5,3.5");
lg.append("text").attr("x",638).attr("y",451).attr("fill","#000").attr("font-size",21).attr("letter-spacing",1).text("single\u2212lens");

svg.append("text").attr("transform","translate(52,530) rotate(-90)").attr("text-anchor","middle")
  .attr("font-family",SERIF).attr("font-size",21).text("Magnitude");

// ---------------- RESIDUAL PANEL ----------------
const gRes = svg.append("g").attr("clip-path","url(#cRes)");
drawData(gRes, mainX, resY, d=>modelAt(d[0])-d[1], 3.5, 3.2, 1.5);
gRes.append("line").attr("x1",109.3).attr("x2",802.3).attr("y1",resY(0)).attr("y2",resY(0))
  .attr("stroke","#666").attr("stroke-width",2.4);
frame(mainX, resY, rng(7810,7890,10), rng(7810,7895,5), resYTicks, rng(-0.6,0.6,0.1), 14, 7);
svg.append("g").selectAll("text").data(resYTicks).join("text")
  .attr("x",94).attr("y",d=>resY(d)+7.5).attr("text-anchor","end")
  .attr("font-family",SANS).attr("font-size",21).text(d=>fmt(d));
svg.append("g").selectAll("text").data(mainXTicks).join("text")
  .attr("x",d=>mainX(d)).attr("y",827).attr("text-anchor","middle")
  .attr("font-family",SANS).attr("font-size",21).text(d=>d);
svg.append("text").attr("x",455).attr("y",855).attr("text-anchor","middle")
  .attr("font-family",SERIF).attr("font-size",21).text("HJD\u22122450000");
svg.append("text").attr("transform","translate(32,745) rotate(-90)").attr("text-anchor","middle")
  .attr("font-family",SERIF).attr("font-size",23).text("residual");
</script>
</body></html>
